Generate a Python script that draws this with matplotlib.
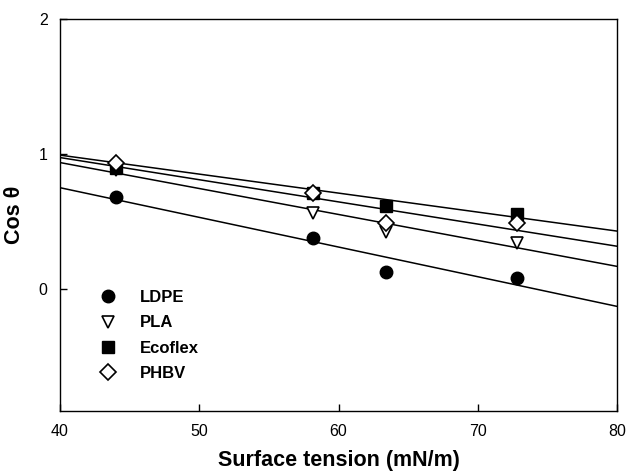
import matplotlib
matplotlib.use("Agg")
import matplotlib.pyplot as plt
import numpy as np

plt.rcParams['font.family'] = ['Liberation Sans', 'DejaVu Sans']

# Data
surface_tension = [44.0, 58.2, 63.4, 72.8]
ldpe = [0.683, 0.381, 0.131, 0.082]
pla = [0.886, 0.565, 0.424, 0.343]
ecoflex = [0.90, 0.71, 0.615, 0.556]
phbv = [0.936, 0.713, 0.49, 0.49]
ldpe_err = [0.03, 0.02, 0.0, 0.0]
ecoflex_err = [0.0, 0.0, 0.02, 0.02]

# Regression lines (slope, intercept)
fit_slope = {'LDPE': -0.02195, 'PLA': -0.0192, 'Ecoflex': -0.01405, 'PHBV': -0.0164}
fit_intercept = {'LDPE': 1.630, 'PLA': 1.706, 'Ecoflex': 1.555, 'PHBV': 1.631}

x_range = [40, 80]
y_range = [-0.9, 2]
x_ticks = [40, 50, 60, 70, 80]
y_ticks = [0, 1, 2]

fig = plt.figure(figsize=(6.28, 4.73), dpi=100)
ax = fig.add_axes([60/628, 62/473, 557/628, 392/473])

xs = np.array(x_range, dtype=float)
for name in ['LDPE', 'PLA', 'Ecoflex', 'PHBV']:
    ax.plot(xs, fit_intercept[name] + fit_slope[name] * xs, color='black', lw=1.1, zorder=1)

ax.errorbar(surface_tension, ldpe, yerr=ldpe_err, fmt='none', ecolor='black', capsize=3, lw=1, zorder=2)
ax.errorbar(surface_tension, ecoflex, yerr=ecoflex_err, fmt='none', ecolor='black', capsize=3, lw=1, zorder=2)

h1, = ax.plot(surface_tension, ldpe, 'o', ms=9, mfc='black', mec='black', ls='none', label='LDPE', zorder=3)
h2, = ax.plot(surface_tension, pla, 'v', ms=9, mfc='white', mec='black', mew=1.2, ls='none', label='PLA', zorder=3)
h3, = ax.plot(surface_tension, ecoflex, 's', ms=8, mfc='black', mec='black', ls='none', label='Ecoflex', zorder=4)
h4, = ax.plot(surface_tension, phbv, 'D', ms=8, mfc='white', mec='black', mew=1.2, ls='none', label='PHBV', zorder=5)

ax.set_xlim(x_range)
ax.set_ylim(y_range)
ax.set_xticks(x_ticks)
ax.set_yticks(y_ticks)
ax.tick_params(direction='in', length=5, width=1, labelsize=11.5, pad=9)
for s in ax.spines.values():
    s.set_linewidth(1.0)

ax.set_xlabel('Surface tension (mN/m)', fontsize=15.5, fontweight='bold', labelpad=8)
ax.set_ylabel('Cos θ', fontsize=15.5, fontweight='bold', labelpad=10)

leg = ax.legend(handles=[h1, h2, h3, h4], loc='upper left',
                bbox_to_anchor=((100-60)/557, (411-290)/392),
                frameon=False, numpoints=1, handlelength=1.0, handletextpad=1.4,
                borderaxespad=0, borderpad=0, labelspacing=0.62,
                prop={'weight': 'bold', 'size': 12})

fig.savefig('out.png', dpi=100)
